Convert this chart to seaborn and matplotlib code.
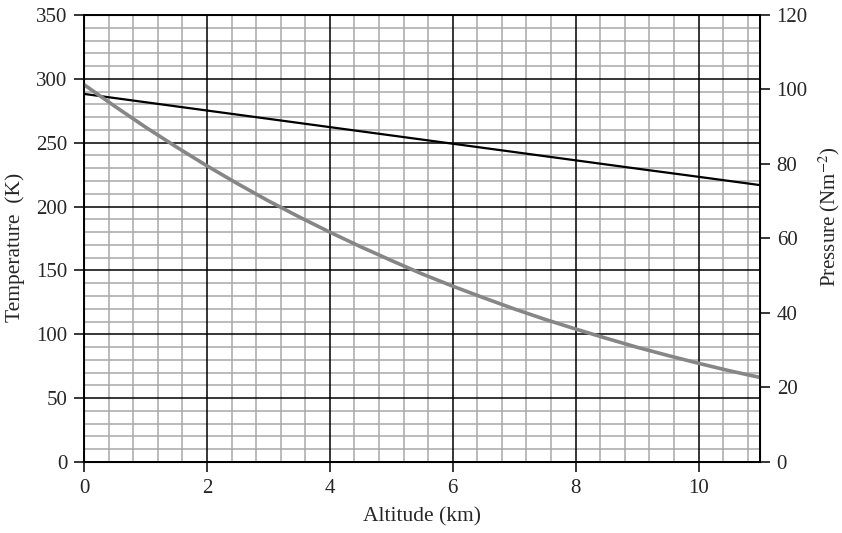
import numpy as np
import pandas as pd
import matplotlib
matplotlib.use('Agg')
import matplotlib.pyplot as plt
from matplotlib.ticker import MultipleLocator
import seaborn as sns

# Values
altitude_t = [0, 1, 2, 3, 4, 5, 6, 7, 8, 9, 10, 11]
temperature = [288.2, 281.7, 275.2, 268.7, 262.2, 255.7, 249.2, 242.7, 236.2, 229.7, 223.3, 216.8]

altitude_p = [0, 0.5, 1, 1.5, 2, 2.5, 3, 3.5, 4, 4.5, 5, 5.5, 6, 6.5, 7, 7.5,
              8, 8.5, 9, 9.5, 10, 10.5, 11]
pressure = [101.3, 95.5, 89.9, 84.6, 79.5, 74.7, 70.1, 65.8, 61.7, 57.8, 54.1,
            50.5, 47.2, 44.1, 41.1, 38.3, 35.7, 33.2, 30.8, 28.6, 26.5, 24.5, 22.7]

x_ticks = [0, 2, 4, 6, 8, 10]
left_ticks = [0, 50, 100, 150, 200, 250, 300, 350]
right_ticks = [0, 20, 40, 60, 80, 100, 120]

sns.set_style('ticks')
plt.rcParams['font.family'] = ['Liberation Serif', 'DejaVu Serif']
plt.rcParams['mathtext.fontset'] = 'stix'

df_t = pd.DataFrame({'alt': altitude_t, 'T': temperature})
df_p = pd.DataFrame({'alt': altitude_p, 'P': pressure})

rect = [0.0998, 0.1332, 0.8028, 0.8387]
fig = plt.figure(figsize=(8.42, 5.33), dpi=100)

# background axes: only the fine grey grid
ax_bg = fig.add_axes(rect)
ax_bg.set_xlim(0, 11)
ax_bg.set_ylim(0, 350)
ax_bg.xaxis.set_minor_locator(MultipleLocator(0.4))
ax_bg.yaxis.set_minor_locator(MultipleLocator(10))
ax_bg.grid(which='minor', color='#a8a8a8', linewidth=1.1)
ax_bg.grid(which='major', visible=False)
ax_bg.tick_params(which='both', length=0, labelbottom=False, labelleft=False)

# main axes: black major grid + temperature
ax = fig.add_axes(rect, sharex=ax_bg, sharey=ax_bg)
ax.patch.set_visible(False)
ax.set_axisbelow(True)
ax.grid(which='major', color='black', linewidth=1.1)
ax2 = ax.twinx()

sns.lineplot(data=df_t, x='alt', y='T', ax=ax, color='black', linewidth=1.6)
sns.lineplot(data=df_p, x='alt', y='P', ax=ax2, color='#868686', linewidth=2.6)

ax.set_xlim(0, 11)
ax.set_ylim(0, 350)
ax2.set_ylim(0, 120)
ax.set_xticks(x_ticks)
ax.set_yticks(left_ticks)
ax2.set_yticks(right_ticks)

ax.set_xlabel('Altitude (km)', fontsize=15.5, labelpad=7)
ax.set_ylabel('Temperature  (K)', fontsize=15.5, labelpad=8)
ax2.set_ylabel('Pressure (Nm$^{-2}$)', fontsize=15, labelpad=6)
ax.yaxis.label.set_y(0.48)
ax2.yaxis.label.set_y(0.55)

for a in (ax, ax2):
    a.tick_params(which='major', length=7, width=1.1, labelsize=15, color='black', pad=5)
    a.tick_params(which='minor', length=0)
    for s in a.spines.values():
        s.set_visible(True)
        s.set_color('black')
        s.set_linewidth(1.2)

fig.savefig('out.png', dpi=100)
